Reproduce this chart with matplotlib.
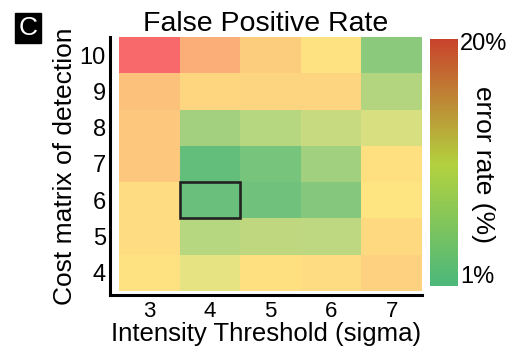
import numpy as np
import matplotlib
matplotlib.use("Agg")
import matplotlib.pyplot as plt
from matplotlib.colors import LinearSegmentedColormap, Normalize
from matplotlib.patches import Rectangle

plt.rcParams['font.family'] = ['Liberation Sans', 'DejaVu Sans']

# intensity threshold (columns) and cost matrix of detection (rows, bottom -> top)
thresholds = ['3', '4', '5', '6', '7']
costs = ['4', '5', '6', '7', '8', '9', '10']

# false positive rate (%), rows in the same order as costs
rate = [
    [11.1, 9.0, 11.3, 11.6, 12.4],   # 4
    [11.6, 6.1, 6.7, 6.5, 11.8],     # 5
    [11.6, 1.4, 1.8, 3.1, 10.9],     # 6
    [13.0, 1.0, 2.3, 4.8, 11.3],     # 7
    [13.0, 5.0, 6.1, 7.1, 8.1],      # 8
    [13.4, 12.0, 12.2, 12.2, 6.0],   # 9
    [20.0, 14.9, 12.6, 11.1, 3.5],   # 10
]
best = ('4', '6')   # highlighted cell (threshold, cost)
vmin, vmax = 1, 20

# excel style scale for the cells, darker one for the bar
cell_cmap = LinearSegmentedColormap.from_list('cells', ['#63BE7B', '#FFEB84', '#F8696B'])
bar_cmap = LinearSegmentedColormap.from_list('bar', [(0, '#4cb87b'), (0.49, '#b3d23f'), (1, '#c9432c')])

fig = plt.figure(figsize=(5.18, 3.52), dpi=100)
ax = fig.add_axes([0.2124, 0.1619, 0.6023, 0.733])

ax.imshow(np.array(rate), cmap=cell_cmap, norm=Normalize(vmin, vmax),
          origin='lower', aspect='auto', extent=(-0.5, 4.5, -0.5, 6.5))
ax.set_xlim(-0.65, 4.5)
ax.set_ylim(-0.62, 6.5)

bx = thresholds.index(best[0])
by = costs.index(best[1])
ax.add_patch(Rectangle((bx - 0.5, by - 0.5), 1, 1, fill=False, ec='#222222', lw=1.9))

ax.set_xticks(range(len(thresholds)))
ax.set_xticklabels(thresholds)
ax.set_yticks(range(len(costs)))
ax.set_yticklabels(costs)
ax.tick_params(axis='y', length=0, labelsize=17, pad=3)
ax.tick_params(axis='x', length=0, labelsize=16, pad=4)
for s in ['top', 'right']:
    ax.spines[s].set_visible(False)
for s in ['left', 'bottom']:
    ax.spines[s].set_linewidth(2.2)

ax.set_xlabel('Intensity Threshold (sigma)', fontsize=18.5, labelpad=0)
ax.set_ylabel('Cost matrix of detection', fontsize=19, labelpad=2)
ax.set_title('False Positive Rate', fontsize=20.5, pad=3)

# colour bar
cax = fig.add_axes([430 / 518, 1 - 286 / 352, 28 / 518, 247 / 352])
grad = np.linspace(0, 1, 256).reshape(-1, 1)
cax.imshow(grad, cmap=bar_cmap, origin='lower', aspect='auto')
cax.set_axis_off()
fig.text(460 / 518, 1 - 44 / 352, '20%', fontsize=17, va='center', ha='left')
fig.text(460 / 518, 1 - 277 / 352, '1%', fontsize=17, va='center', ha='left')
fig.text(483 / 518, 1 - 165 / 352, 'error rate (%)', fontsize=19, va='center',
         ha='center', rotation=270)

# panel letter
fig.text(28 / 518, 1 - 28 / 352, 'C', fontsize=19, color='white', ha='center', va='center',
         bbox=dict(boxstyle='square,pad=0.12', fc='black', ec='black'))

fig.savefig('out.png', dpi=100)
